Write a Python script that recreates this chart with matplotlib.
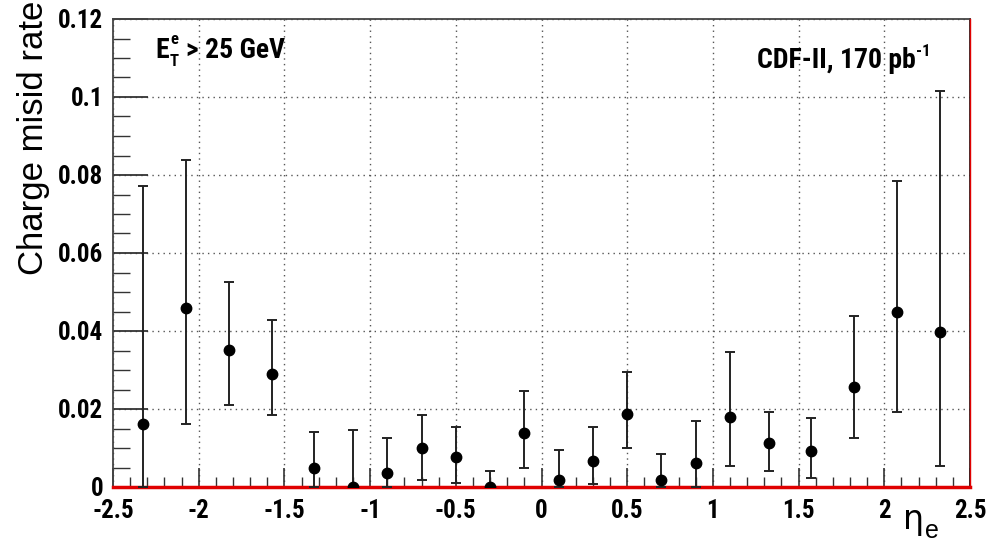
import matplotlib
matplotlib.use("Agg")
import matplotlib.pyplot as plt
from matplotlib.ticker import MultipleLocator, FixedLocator
from matplotlib import font_manager
from matplotlib.font_manager import FontProperties
import numpy as np
import os

eta = [-2.325, -2.075, -1.825, -1.575, -1.325, -1.1, -0.9, -0.7, -0.5, -0.3, -0.1,
       0.1, 0.3, 0.5, 0.7, 0.9, 1.1, 1.325, 1.575, 1.825, 2.075, 2.325]
rate = [0.0162, 0.0460, 0.0351, 0.0290, 0.0050, 0.0000, 0.0036, 0.0099, 0.0077, 0.0000, 0.0139,
        0.0019, 0.0066, 0.0187, 0.0019, 0.0062, 0.0180, 0.0114, 0.0092, 0.0257, 0.0449, 0.0397]
low_bound = [0.0, 0.0162, 0.0210, 0.0185, 0.0, 0.0, 0.0, 0.0019, 0.0010, 0.0, 0.0048,
             0.0, 0.0008, 0.0099, 0.0, 0.0, 0.0055, 0.0041, 0.0022, 0.0125, 0.0192, 0.0055]
high_bound = [0.0772, 0.0839, 0.0526, 0.0427, 0.0140, 0.0146, 0.0125, 0.0185, 0.0155, 0.0041, 0.0246,
              0.0096, 0.0155, 0.0295, 0.0085, 0.0170, 0.0346, 0.0192, 0.0176, 0.0438, 0.0785, 0.1015]

xticks = [-2.5, -2, -1.5, -1, -0.5, 0, 0.5, 1, 1.5, 2, 2.5]
xticklabels = ["-2.5", "-2", "-1.5", "-1", "-0.5", "0", "0.5", "1", "1.5", "2", "2.5"]
yticks = [0, 0.02, 0.04, 0.06, 0.08, 0.1, 0.12]
yticklabels = ["0", "0.02", "0.04", "0.06", "0.08", "0.1", "0.12"]

# find a condensed bold font file
cands = ["LiberationSansNarrow-Bold", "RobotoCondensed-Bold", "DejaVuSansCondensed-Bold"]
files = [f.fname for f in font_manager.fontManager.ttflist]
chosen = None
for c in cands:
    for fn in files:
        if os.path.basename(fn).startswith(c):
            chosen = fn
            break
    if chosen:
        break

def bold_fp(size):
    if chosen:
        return FontProperties(fname=chosen, size=size)
    return FontProperties(family='Liberation Sans', weight='bold', size=size)

W, H = 997, 549
fig = plt.figure(figsize=(W/100, H/100), dpi=100)
ax = fig.add_axes([113/W, 1-487/H, (970-113)/W, (487-19)/H])

rate_a = np.array(rate)
yerr = [rate_a - np.array(low_bound), np.array(high_bound) - rate_a]
ax.errorbar(eta, rate, yerr=yerr, fmt='o', color='black', ecolor='#222222',
            markersize=7.5, elinewidth=1.4, capsize=3.5, capthick=1.4, zorder=5, clip_on=True)

ax.set_xlim(-2.5, 2.5)
ax.set_ylim(0, 0.12)

ax.xaxis.set_major_locator(FixedLocator(xticks))
ax.set_xticklabels(xticklabels)
ax.yaxis.set_major_locator(FixedLocator(yticks))
ax.set_yticklabels(yticklabels)
ax.xaxis.set_minor_locator(MultipleLocator(0.1))
ax.yaxis.set_minor_locator(MultipleLocator(0.005))

ax.tick_params(axis='both', which='both', direction='in', top=False, right=False, color='#333333')
ax.tick_params(axis='x', which='major', length=14, width=1.2, pad=9)
ax.tick_params(axis='x', which='minor', length=7, width=1.0)
ax.tick_params(axis='y', which='major', length=25, width=1.3, pad=7)
ax.tick_params(axis='y', which='minor', length=12, width=1.0)

for lab in ax.get_xticklabels() + ax.get_yticklabels():
    lab.set_fontproperties(bold_fp(18))

ax.grid(True, which='major', linestyle=(0, (1, 3)), color='#555555', linewidth=1.0)
ax.set_axisbelow(True)

for s in ['top', 'left']:
    ax.spines[s].set_color('#444444')
    ax.spines[s].set_linewidth(1.3)
ax.spines['bottom'].set_color('black')
ax.spines['bottom'].set_linewidth(1.0)
ax.spines['right'].set_color('#222222')
ax.spines['right'].set_linewidth(1.3)
ax.axhline(0, color='#e00000', linewidth=2.5, zorder=4, clip_on=False)
ax.axvline(2.5, color='#e00000', linewidth=1.0, zorder=4, clip_on=False)

fig.text(33/W, 1-138/H, "Charge misid rate", rotation=90, ha='center', va='center',
         fontsize=25, family='Liberation Sans', color='black')

# E_T^e > 25 GeV
fig.text(155/W, 1-50/H, "E", fontproperties=bold_fp(20), ha='left', va='center')
fig.text(170/W, 1-40/H, "e", fontproperties=bold_fp(12), ha='left', va='center')
fig.text(170/W, 1-61/H, "T", fontproperties=bold_fp(12), ha='left', va='center')
fig.text(186/W, 1-50/H, "> 25 GeV", fontproperties=bold_fp(20), ha='left', va='center')

fig.text(757/W, 1-60/H, "CDF-II, 170 pb", fontproperties=bold_fp(20), ha='left', va='center')
fig.text(916/W, 1-51/H, "-1", fontproperties=bold_fp(12), ha='left', va='center')

fig.text(903/W, 1-520/H, "\u03b7", fontsize=24, family='DejaVu Sans', ha='left', va='center')
fig.text(925/W, 1-531/H, "e", fontsize=18, family='Liberation Sans', ha='left', va='center')

fig.savefig("out.png", dpi=100)
